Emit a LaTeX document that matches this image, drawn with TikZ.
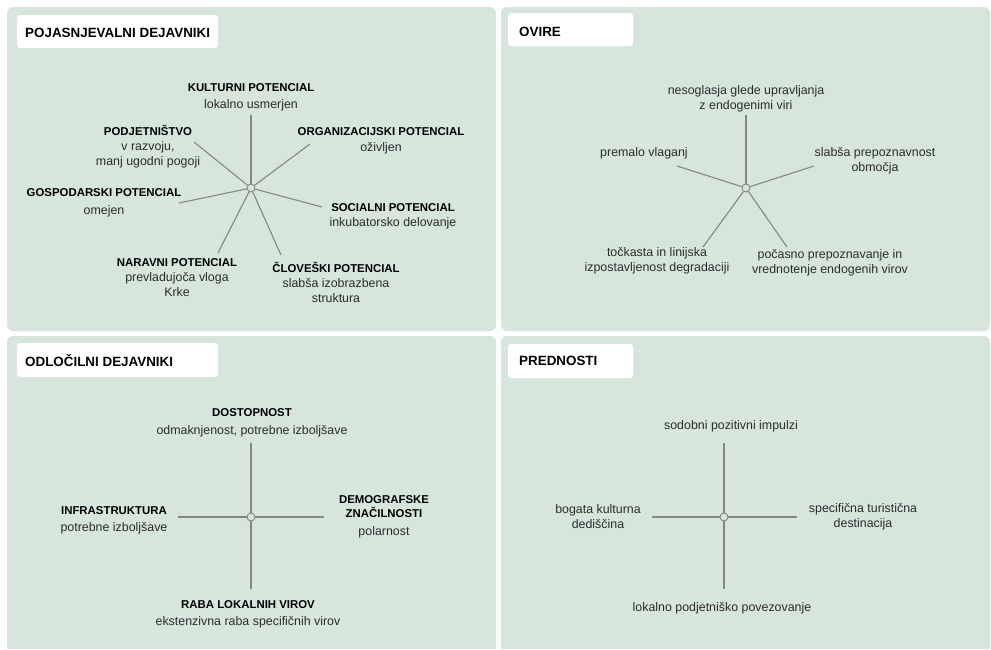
\documentclass[tikz,border=0pt]{standalone}
\usepackage{fontspec}
\setmainfont{Liberation Sans}
\newcommand{\bltxt}[1]{{\fontsize{11.4}{15}\selectfont\bfseries\color{black}#1}}
\begin{document}
\begin{tikzpicture}[x=1pt,y=-1pt,
  panel/.style={fill=panelbg, rounded corners=6pt},
  titlebox/.style={fill=white, rounded corners=3pt},
  titletext/.style={anchor=base west, font=\fontsize{13.4}{15}\selectfont\bfseries, text=black, inner sep=0pt},
  spoke/.style={draw=spokegray, line width=1.1pt},
  hub/.style={circle, draw=spokegray, fill=panelbg, line width=0.9pt, minimum size=8pt, inner sep=0pt},
  lab/.style={align=center, inner sep=0pt, text=textgray, font=\fontsize{12.4}{15}\selectfont}
]
\definecolor{panelbg}{HTML}{D7E6DD}
\definecolor{spokegray}{HTML}{858585}
\definecolor{textgray}{HTML}{2B2B2B}
\useasboundingbox (0,0) rectangle (991,649);
\fill[white] (0,0) rectangle (991,649);
% panels
\fill[panel] (7,7) rectangle (496,331);
\fill[panel] (501,7) rectangle (990,331);
\fill[panel] (7,336) rectangle (496,660);
\fill[panel] (501,336) rectangle (990,660);
\fill[white] (0,649) rectangle (991,670);
% title boxes
\fill[titlebox] (17,15) rectangle (218,48);
\fill[titlebox] (508,13) rectangle (633,46);
\fill[titlebox] (17,343) rectangle (218,377);
\fill[titlebox] (508,344) rectangle (633,378);
\node[titletext] (t1) at (25,37) {POJASNJEVALNI DEJAVNIKI};
\node[titletext] (t2) at (519,36) {OVIRE};
\node[titletext] (t3) at (25,366) {ODLOČILNI DEJAVNIKI};
\node[titletext] (t4) at (519,365) {PREDNOSTI};

% ---------- panel 1 ----------
\node[hub] (c1) at (251,188) {};
\coordinate (p1a) at (251,115);
\coordinate (p1b) at (194,142);
\coordinate (p1c) at (310,144);
\coordinate (p1d) at (179,203);
\coordinate (p1e) at (322,207);
\coordinate (p1f) at (218,253);
\coordinate (p1g) at (281,255);
\foreach \p in {p1a,p1b,p1c,p1d,p1e,p1f,p1g} \draw[spoke] (c1) -- (\p);
\node[lab] (l1a) at (251,97) {\bltxt{KULTURNI POTENCIAL}\\[2pt]lokalno usmerjen};
\node[lab] (l1b) at (148,147) {\bltxt{PODJETNIŠTVO}\\v razvoju,\\manj ugodni pogoji};
\node[lab] (l1c) at (381,140.5) {\bltxt{ORGANIZACIJSKI POTENCIAL}\\[1pt]oživljen};
\node[lab] (l1d) at (104,202.5) {\bltxt{GOSPODARSKI POTENCIAL}\\[3pt]omejen};
\node[lab] (l1e) at (393,216) {\bltxt{SOCIALNI POTENCIAL}\\inkubatorsko delovanje};
\node[lab] (l1f) at (177,278) {\bltxt{NARAVNI POTENCIAL}\\prevladujoča vloga\\Krke};
\node[lab] (l1g) at (336,282) {\bltxt{ČLOVEŠKI POTENCIAL}\\slabša izobrazbena\\struktura};

% ---------- panel 2 ----------
\node[hub] (c2) at (746,188) {};
\coordinate (p2a) at (746,115);
\coordinate (p2b) at (677,166);
\coordinate (p2c) at (814,166);
\coordinate (p2d) at (703,247);
\coordinate (p2e) at (787,247);
\foreach \p in {p2a,p2b,p2c,p2d,p2e} \draw[spoke] (c2) -- (\p);
\node[lab] (l2a) at (746,99) {nesoglasja glede upravljanja\\z endogenimi viri};
\node[lab] (l2b) at (644,153.5) {premalo vlaganj};
\node[lab] (l2c) at (875,161) {slabša prepoznavnost\\območja};
\node[lab] (l2d) at (657,261) {točkasta in linijska\\izpostavljenost degradaciji};
\node[lab] (l2e) at (830,262.5) {počasno prepoznavanje in\\vrednotenje endogenih virov};

% ---------- panel 3 ----------
\node[hub] (c3) at (251,517) {};
\coordinate (p3a) at (251,443);
\coordinate (p3b) at (251,589);
\coordinate (p3c) at (178,517);
\coordinate (p3d) at (324,517);
\foreach \p in {p3a,p3b,p3c,p3d} \draw[spoke] (c3) -- (\p);
\node[lab] (l3a) at (252,422.5) {\bltxt{DOSTOPNOST}\\[3pt]odmaknjenost, potrebne izboljšave};
\node[lab] (l3b) at (114,520) {\bltxt{INFRASTRUKTURA}\\[2pt]potrebne izboljšave};
\node[lab] (l3c) at (384,516.5) {\bltxt{DEMOGRAFSKE}\\[-1pt]\bltxt{ZNAČILNOSTI}\\[3pt]polarnost};
\node[lab] (l3d) at (248,614) {\bltxt{RABA LOKALNIH VIROV}\\[2pt]ekstenzivna raba specifičnih virov};

% ---------- panel 4 ----------
\node[hub] (c4) at (724,517) {};
\coordinate (p4a) at (724,443);
\coordinate (p4b) at (724,589);
\coordinate (p4c) at (652,517);
\coordinate (p4d) at (797,517);
\foreach \p in {p4a,p4b,p4c,p4d} \draw[spoke] (c4) -- (\p);
\node[lab] (l4a) at (731,426.5) {sodobni pozitivni impulzi};
\node[lab] (l4b) at (598,517) {bogata kulturna\\dediščina};
\node[lab] (l4c) at (863,517) {specifična turistična\\destinacija};
\node[lab] (l4d) at (722,608.5) {lokalno podjetniško povezovanje};
\end{tikzpicture}
\end{document}
